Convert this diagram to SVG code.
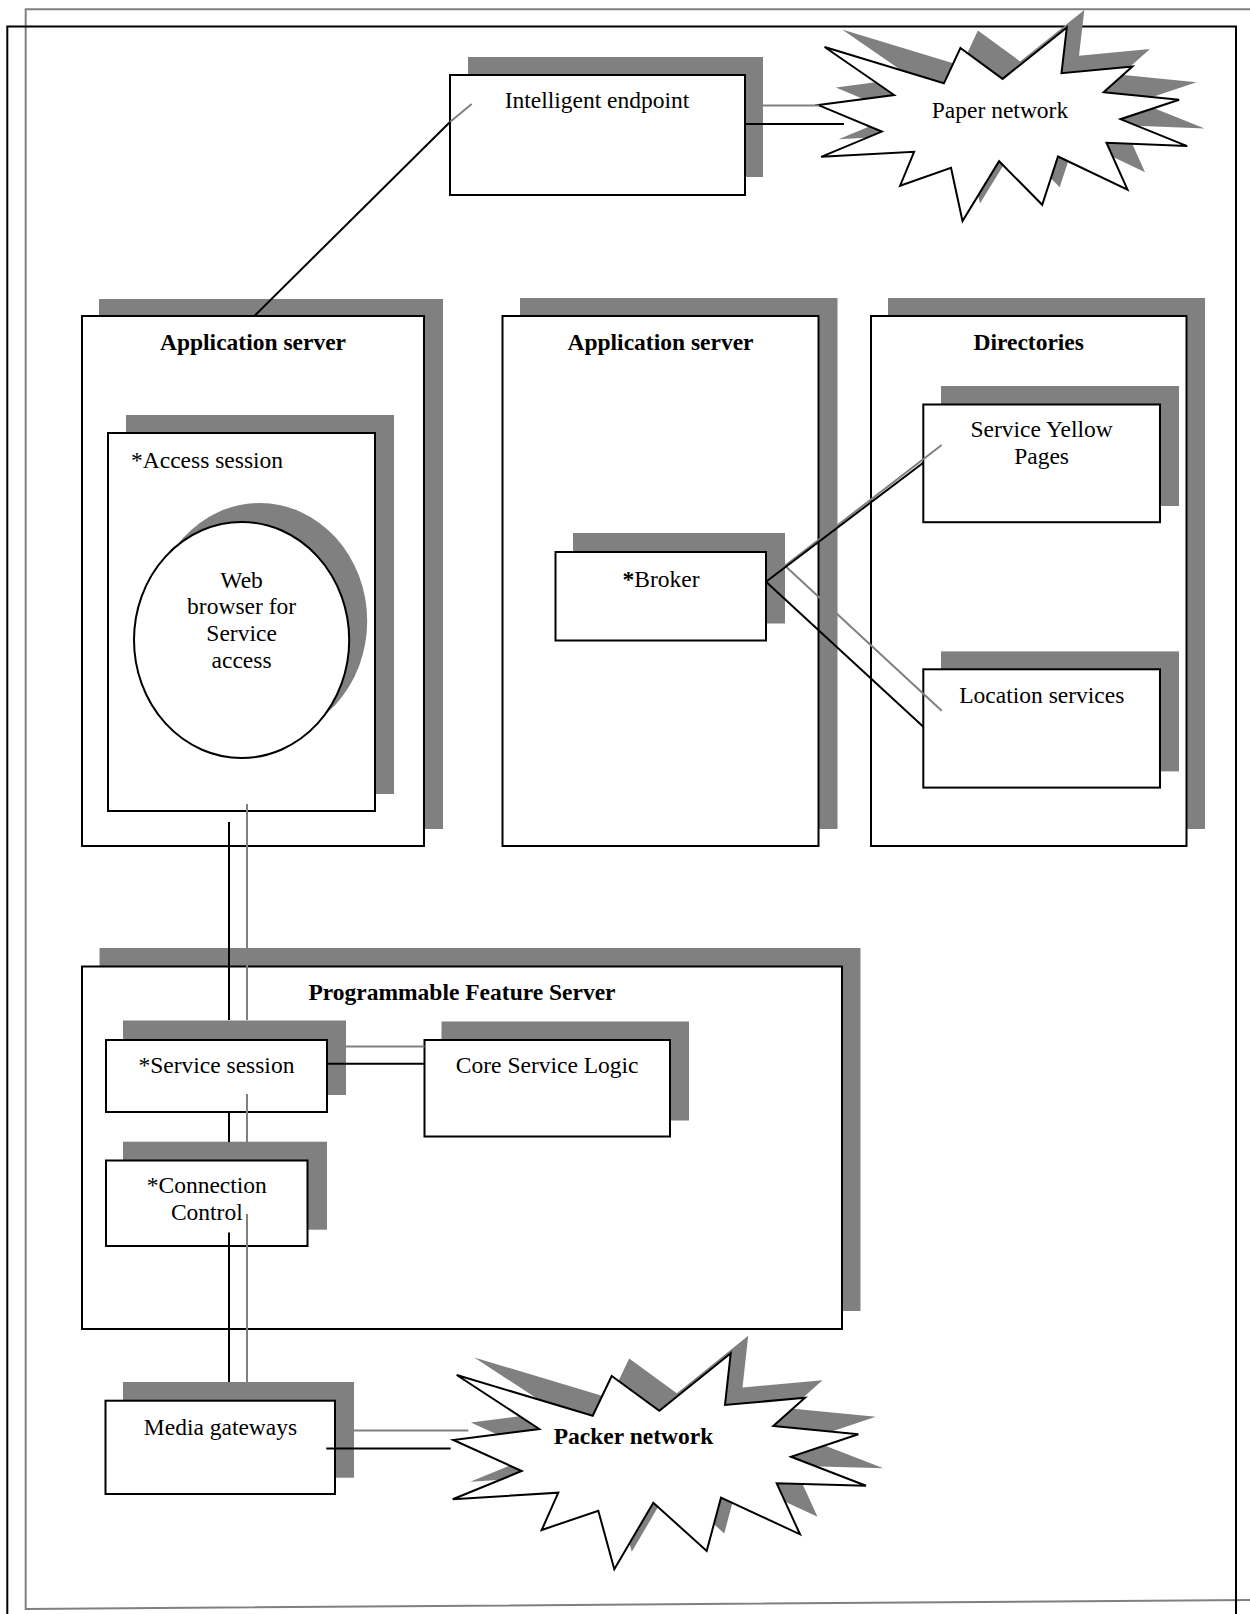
<svg xmlns="http://www.w3.org/2000/svg" width="1250" height="1614" viewBox="0 0 1250 1614">
<defs>
<style>
.sh{fill:#808080;stroke:none}
.bx{fill:#fff;stroke:#000;stroke-width:2}
.t{font-family:"Liberation Serif","Times New Roman",serif;font-size:23.5px;fill:#000}
.c{text-anchor:middle}
.b{font-weight:bold}
.k{stroke:#000;stroke-width:2;fill:none}
.g{stroke:#808080;stroke-width:2;fill:none}
</style>
<polygon id="paper" points="824.6,47 894.1,95 818.3,105.1 881.8,131.6 821.1,156.8 914.1,151.8 900.1,185.7 951,167.9 962.5,221 999.1,161.2 1042.2,204.8 1058,156.5 1127.5,189.7 1106.5,142.7 1187.2,146.1 1120.5,119.2 1179.1,99.7 1103.6,92.3 1132.4,66.5 1061.5,73.2 1066.8,27.5 1002.6,78.9 960.4,48 943.9,83.3"/>
<polygon id="packer" points="456.7,1375 539.3,1429 453.3,1440 521.7,1471 452.7,1499.3 558.3,1492.7 541.7,1530 598.3,1510.7 614.3,1569.3 653.3,1502.7 706.7,1551 721,1497.7 800,1534.3 776.7,1483.3 866,1485.7 791,1456.7 858.3,1434.3 773.3,1426 805,1397.7 725,1405 730.7,1353.3 659.3,1410.7 611.7,1376 592.7,1415.7"/>
</defs>
<rect width="1250" height="1614" fill="#fff"/>
<g id="frame">
<path d="M1250,9.3 H25.7 V1609 L1250,1600" fill="none" stroke="#808080" stroke-width="2"/>
<path d="M7.3,1614 V26.5 H1236 V1614" fill="none" stroke="#000" stroke-width="2"/>
</g>
<g id="intelligent-endpoint">
<rect class="sh" x="468" y="57" width="295" height="120"/>
<rect class="bx" x="450" y="75" width="295" height="120"/>
<text class="t c" x="597" y="108">Intelligent endpoint</text>
</g>
<g id="paper-network">
<use href="#paper" class="sh" transform="translate(17.5,-17.5)"/>
<use href="#paper" class="bx"/>
<text class="t c" x="1000" y="118">Paper network</text>
</g>
<g id="app-server-1">
<rect class="sh" x="99" y="299" width="344" height="530"/>
<rect class="bx" x="82" y="316" width="342" height="530"/>
<text class="t c b" x="253" y="350">Application server</text>
</g>
<g id="access-session">
<rect class="sh" x="126" y="415" width="268" height="379"/>
<rect class="bx" x="108" y="433" width="267" height="378"/>
<text class="t" x="131" y="467.5">*Access session</text>
</g>
<g id="web-browser">
<ellipse class="sh" cx="259.6" cy="621" rx="107.6" ry="118"/>
<ellipse class="bx" cx="241.6" cy="640" rx="107.6" ry="118"/>
<text class="t c" x="241.6" y="587.5">Web</text>
<text class="t c" x="241.6" y="614">browser for</text>
<text class="t c" x="241.6" y="640.5">Service</text>
<text class="t c" x="241.6" y="667.5">access</text>
</g>
<g id="app-server-2">
<rect class="sh" x="520" y="298" width="317.5" height="531"/>
<rect class="bx" x="502.5" y="316" width="316" height="530"/>
<text class="t c b" x="660.5" y="350">Application server</text>
</g>
<g id="broker">
<rect class="sh" x="573" y="533" width="212" height="90.5"/>
<rect class="bx" x="555.5" y="552" width="210.5" height="88.5"/>
<text class="t c" x="661" y="587"><tspan class="b">*</tspan>Broker</text>
</g>
<g id="directories">
<rect class="sh" x="888" y="298" width="317" height="531"/>
<rect class="bx" x="871" y="316" width="315.5" height="530"/>
<text class="t c b" x="1028.7" y="350">Directories</text>
</g>
<g id="service-yellow-pages">
<rect class="sh" x="941" y="386" width="238" height="120"/>
<rect class="bx" x="923.3" y="404.5" width="236.7" height="117.7"/>
<text class="t c" x="1041.6" y="437">Service Yellow</text>
<text class="t c" x="1041.6" y="464.3">Pages</text>
</g>
<g id="location-services">
<rect class="sh" x="941" y="651.4" width="238" height="120"/>
<rect class="bx" x="923.3" y="669.3" width="236.7" height="118.3"/>
<text class="t c" x="1041.8" y="703">Location services</text>
</g>
<g id="programmable-feature-server">
<rect class="sh" x="99.5" y="948" width="761" height="363"/>
<rect class="bx" x="82" y="966.5" width="760" height="362.5"/>
<text class="t c b" x="462" y="1000">Programmable Feature Server</text>
</g>
<g id="service-session">
<rect class="sh" x="123" y="1020.5" width="223" height="74.5"/>
<rect class="bx" x="106" y="1040" width="221" height="72"/>
<text class="t c" x="216.4" y="1073">*Service session</text>
</g>
<g id="core-service-logic">
<rect class="sh" x="441.5" y="1021.5" width="247.5" height="99"/>
<rect class="bx" x="424.5" y="1040" width="245.5" height="96.5"/>
<text class="t c" x="547.2" y="1073">Core Service Logic</text>
</g>
<g id="connection-control">
<rect class="sh" x="123" y="1141.7" width="204" height="88"/>
<rect class="bx" x="106" y="1160.5" width="201.5" height="85.5"/>
<text class="t c" x="206.8" y="1193.2">*Connection</text>
<text class="t c" x="206.8" y="1220.3">Control</text>
</g>
<g id="media-gateways">
<rect class="sh" x="123" y="1382" width="231" height="95.7"/>
<rect class="bx" x="105.5" y="1400.7" width="229.5" height="93.3"/>
<text class="t c" x="220.5" y="1435">Media gateways</text>
</g>
<g id="packer-network">
<use href="#packer" class="sh" transform="translate(17.5,-17.5)"/>
<use href="#packer" class="bx"/>
<text class="t c b" x="633.5" y="1444">Packer network</text>
</g>
<g id="connectors">
<line class="g" x1="471.7" y1="104" x2="450" y2="122"/>
<line class="k" x1="450" y1="122" x2="254.3" y2="316"/>
<line class="g" x1="763" y1="105.5" x2="819" y2="105.5"/>
<line class="k" x1="745" y1="124" x2="844" y2="124"/>
<line class="g" x1="247" y1="804" x2="247" y2="1020"/>
<line class="k" x1="229" y1="822" x2="229" y2="1020"/>
<line class="g" x1="247" y1="1094" x2="247" y2="1142"/>
<line class="k" x1="229" y1="1112" x2="229" y2="1142"/>
<line class="g" x1="247" y1="1214" x2="247" y2="1382"/>
<line class="k" x1="229" y1="1232.5" x2="229" y2="1382"/>
<line class="g" x1="346" y1="1046.4" x2="424.5" y2="1046.4"/>
<line class="k" x1="327" y1="1063.7" x2="424.5" y2="1063.7"/>
<line class="g" x1="354" y1="1430.5" x2="468.3" y2="1430.5"/>
<line class="k" x1="326.3" y1="1448.5" x2="450.7" y2="1448.5"/>
<line class="g" x1="785" y1="565.7" x2="941.7" y2="445"/>
<line class="g" x1="785" y1="565.7" x2="941.7" y2="710.7"/>
<line class="k" x1="766" y1="581.7" x2="923.3" y2="462.7"/>
<line class="k" x1="766" y1="581.7" x2="923.3" y2="726.7"/>
</g>
</svg>
